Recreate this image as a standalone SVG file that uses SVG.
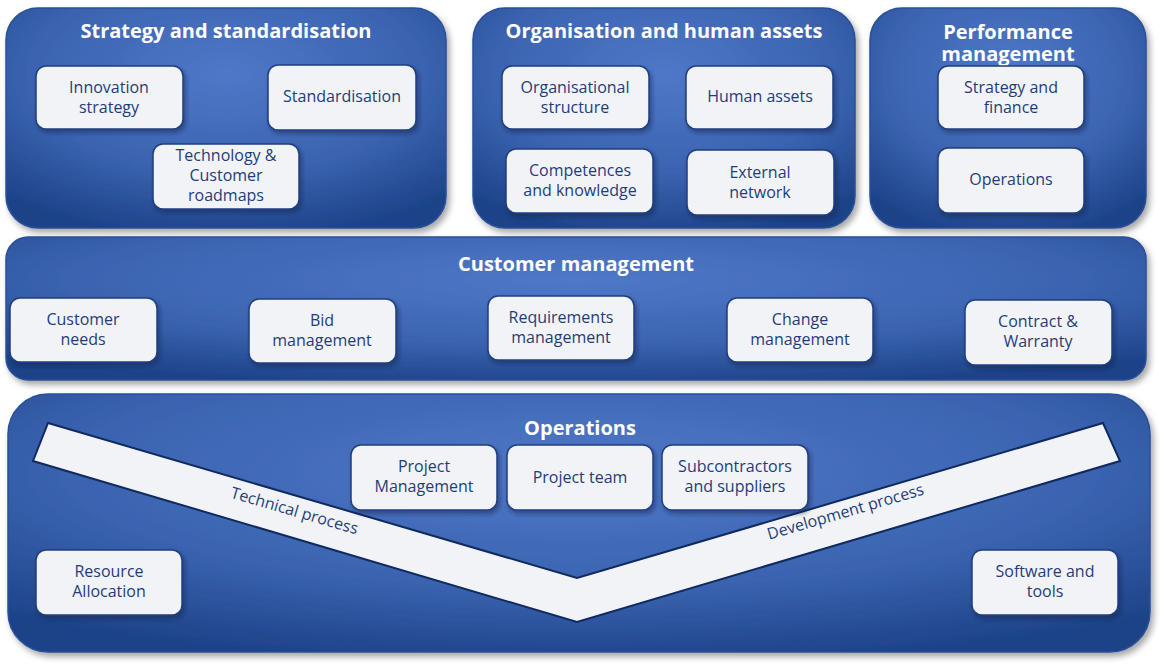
<svg xmlns="http://www.w3.org/2000/svg" width="1164" height="668" viewBox="0 0 1164 668">
<defs>
<radialGradient id="pg" cx="0.5" cy="0.3" r="0.75">
<stop offset="0" stop-color="#4f78c8"/><stop offset="0.6" stop-color="#3a63b0"/><stop offset="1" stop-color="#1d4388"/>
</radialGradient>
<filter id="sh" x="-5%" y="-5%" width="112%" height="115%"><feDropShadow dx="3" dy="4" stdDeviation="3" flood-color="#000" flood-opacity="0.35"/></filter>
<filter id="bs" x="-10%" y="-10%" width="125%" height="130%"><feDropShadow dx="2" dy="3" stdDeviation="2" flood-color="#0a1d45" flood-opacity="0.5"/></filter>
</defs>
<style>
.panel{fill:url(#pg);stroke:#2a5099;stroke-width:1.5;filter:url(#sh)}
.box{fill:#f2f3f6;stroke:#1f3f80;stroke-width:1.5;filter:url(#bs)}
.t{font-family:"Open Sans","Liberation Sans",sans-serif;font-size:16px;fill:#1f3d7a;text-anchor:middle}
.h{font-family:"Open Sans","Liberation Sans",sans-serif;font-size:20px;font-weight:bold;fill:#fff;text-anchor:middle}
.v{fill:#f2f3f6;stroke:#0f2a5e;stroke-width:2}
</style>
<rect width="1164" height="668" fill="#fff"/>
<g id="strategy"><rect class="panel" x="6" y="8" width="440" height="220" rx="32"/><text class="h" x="226" y="38">Strategy and standardisation</text></g>
<g id="org"><rect class="panel" x="473" y="8" width="382" height="220" rx="32"/><text class="h" x="664" y="38">Organisation and human assets</text></g>
<g id="perf"><rect class="panel" x="870" y="8" width="276" height="220" rx="32"/><text class="h" x="1008" y="39" font-size="19">Performance</text><text class="h" x="1008" y="61" font-size="19">management</text></g>
<g id="customer"><rect class="panel" x="6" y="237" width="1140" height="143" rx="22"/><text class="h" x="576" y="271">Customer management</text></g>
<g id="operations"><rect class="panel" x="8" y="394" width="1142" height="258" rx="40"/><text class="h" x="580" y="435">Operations</text></g>
<g id="vshape"><polygon class="v" points="48,423 577,578 1103,423 1120,461 577,622 33,461"/>
<text class="t" font-size="17" transform="translate(293,516) rotate(16.3)">Technical process</text>
<text class="t" font-size="17" transform="translate(847,517) rotate(-16.3)">Development process</text></g>
<g id="n1"><rect class="box" x="36" y="66" width="147" height="63" rx="10"/><text class="t" x="109" y="93">Innovation</text><text class="t" x="109" y="113">strategy</text></g>
<g id="n2"><rect class="box" x="268" y="65" width="148" height="65" rx="10"/><text class="t" x="342" y="102">Standardisation</text></g>
<g id="n3"><rect class="box" x="153" y="144" width="146" height="65" rx="10"/><text class="t" x="226" y="161">Technology &amp;</text><text class="t" x="226" y="181">Customer</text><text class="t" x="226" y="201">roadmaps</text></g>
<g id="n4"><rect class="box" x="502" y="66" width="147" height="63" rx="10"/><text class="t" x="575" y="93">Organisational</text><text class="t" x="575" y="113">structure</text></g>
<g id="n5"><rect class="box" x="686" y="66" width="147" height="63" rx="10"/><text class="t" x="760" y="102">Human assets</text></g>
<g id="n6"><rect class="box" x="506" y="149" width="147" height="64" rx="10"/><text class="t" x="580" y="176">Competences</text><text class="t" x="580" y="196">and knowledge</text></g>
<g id="n7"><rect class="box" x="687" y="150" width="147" height="65" rx="10"/><text class="t" x="760" y="178">External</text><text class="t" x="760" y="198">network</text></g>
<g id="n8"><rect class="box" x="938" y="66" width="146" height="63" rx="10"/><text class="t" x="1011" y="93">Strategy and</text><text class="t" x="1011" y="113">finance</text></g>
<g id="n9"><rect class="box" x="938" y="148" width="146" height="65" rx="10"/><text class="t" x="1011" y="185">Operations</text></g>
<g id="n10"><rect class="box" x="10" y="298" width="147" height="64" rx="10"/><text class="t" x="83" y="325">Customer</text><text class="t" x="83" y="345">needs</text></g>
<g id="n11"><rect class="box" x="249" y="299" width="147" height="64" rx="10"/><text class="t" x="322" y="326">Bid</text><text class="t" x="322" y="346">management</text></g>
<g id="n12"><rect class="box" x="488" y="296" width="146" height="64" rx="10"/><text class="t" x="561" y="323">Requirements</text><text class="t" x="561" y="343">management</text></g>
<g id="n13"><rect class="box" x="727" y="298" width="146" height="64" rx="10"/><text class="t" x="800" y="325">Change</text><text class="t" x="800" y="345">management</text></g>
<g id="n14"><rect class="box" x="965" y="300" width="147" height="65" rx="10"/><text class="t" x="1038" y="327">Contract &amp;</text><text class="t" x="1038" y="347">Warranty</text></g>
<g id="n15"><rect class="box" x="351" y="445" width="146" height="65" rx="10"/><text class="t" x="424" y="472">Project</text><text class="t" x="424" y="492">Management</text></g>
<g id="n16"><rect class="box" x="507" y="445" width="146" height="65" rx="10"/><text class="t" x="580" y="483">Project team</text></g>
<g id="n17"><rect class="box" x="662" y="445" width="146" height="65" rx="10"/><text class="t" x="735" y="472">Subcontractors</text><text class="t" x="735" y="492">and suppliers</text></g>
<g id="n18"><rect class="box" x="36" y="550" width="146" height="65" rx="10"/><text class="t" x="109" y="577">Resource</text><text class="t" x="109" y="597">Allocation</text></g>
<g id="n19"><rect class="box" x="972" y="550" width="146" height="65" rx="10"/><text class="t" x="1045" y="577">Software and</text><text class="t" x="1045" y="597">tools</text></g>
<g id="connectors"/>
</svg>
